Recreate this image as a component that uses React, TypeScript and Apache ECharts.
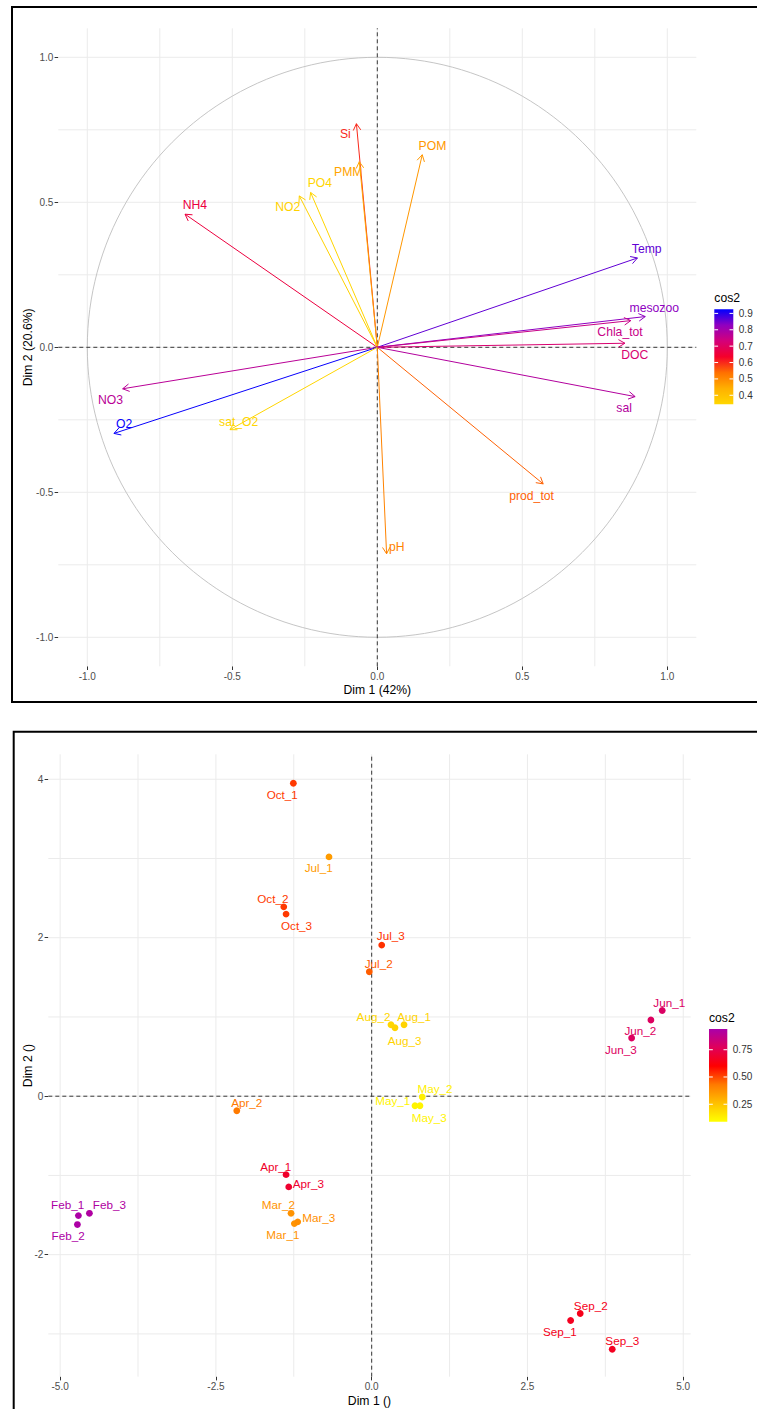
import React, { useEffect, useRef } from "react";
import * as echarts from "echarts";

// ---------- Variables (PCA correlation circle) ----------
const varNames = ["Si", "PMM", "PO4", "NO2", "NH4", "POM", "Temp", "mesozoo", "Chla_tot", "DOC", "sal", "prod_tot", "pH", "NO3", "O2", "sat_O2"];
const varDim1 = [-0.072, -0.062, -0.230, -0.269, -0.663, 0.155, 0.897, 0.924, 0.874, 0.854, 0.889, 0.572, 0.032, -0.878, -0.908, -0.508];
const varDim2 = [0.771, 0.640, 0.534, 0.522, 0.459, 0.664, 0.308, 0.106, 0.092, 0.014, -0.170, -0.471, -0.712, -0.143, -0.297, -0.284];
const varCos2 = [0.60, 0.46, 0.35, 0.36, 0.66, 0.48, 0.86, 0.83, 0.75, 0.72, 0.78, 0.55, 0.51, 0.77, 0.92, 0.35];
const varLabelDim1 = [-0.110, -0.100, -0.198, -0.309, -0.629, 0.190, 0.929, 0.955, 0.837, 0.888, 0.851, 0.532, 0.067, -0.920, -0.873, -0.478];
const varLabelDim2 = [0.735, 0.603, 0.566, 0.483, 0.489, 0.694, 0.338, 0.136, 0.053, -0.025, -0.211, -0.513, -0.689, -0.182, -0.264, -0.258];

// ---------- Individuals ----------
const indNames = ["Feb_1", "Feb_2", "Feb_3", "Mar_1", "Mar_2", "Mar_3", "Apr_1", "Apr_2", "Apr_3", "May_1", "May_2", "May_3", "Jun_1", "Jun_2", "Jun_3", "Jul_1", "Jul_2", "Jul_3", "Aug_1", "Aug_2", "Aug_3", "Sep_1", "Sep_2", "Sep_3", "Oct_1", "Oct_2", "Oct_3"];
const indDim1 = [-4.707, -4.723, -4.530, -1.241, -1.294, -1.187, -1.374, -2.165, -1.331, 0.695, 0.812, 0.775, 4.663, 4.481, 4.172, -0.685, -0.038, 0.161, 0.519, 0.310, 0.374, 3.193, 3.347, 3.861, -1.257, -1.411, -1.374];
const indDim2 = [-1.507, -1.620, -1.478, -1.608, -1.478, -1.586, -0.990, -0.183, -1.145, -0.120, -0.010, -0.120, 1.082, 0.961, 0.734, 3.020, 1.570, 1.907, 0.902, 0.902, 0.864, -2.831, -2.743, -3.193, 3.950, 2.390, 2.298];
const indCos2 = [0.93, 0.93, 0.92, 0.37, 0.37, 0.38, 0.68, 0.43, 0.69, 0.12, 0.13, 0.12, 0.79, 0.78, 0.78, 0.35, 0.47, 0.53, 0.21, 0.20, 0.21, 0.66, 0.65, 0.66, 0.52, 0.52, 0.52];
const indLabelDim1 = [-4.880, -4.872, -4.211, -1.426, -1.498, -0.850, -1.540, -2.005, -1.017, 0.339, 1.016, 0.925, 4.775, 4.313, 4.000, -0.850, 0.113, 0.307, 0.682, 0.029, 0.530, 3.021, 3.516, 4.021, -1.435, -1.586, -1.206];
const indLabelDim2 = [-1.364, -1.759, -1.364, -1.750, -1.372, -1.532, -0.889, -0.082, -1.100, -0.048, 0.098, -0.267, 1.179, 0.826, 0.590, 2.885, 1.680, 2.024, 1.006, 1.006, 0.709, -2.970, -2.642, -3.087, 3.806, 2.494, 2.159];

// ---------- Ticks / grid values ----------
const varTicks = [-1, -0.5, 0, 0.5, 1];
const varMinorTicks = [-0.75, -0.25, 0.25, 0.75];
const indXTicks = [-5, -2.5, 0, 2.5, 5];
const indXMinorTicks = [-3.75, -1.25, 1.25, 3.75];
const indYTicks = [-2, 0, 2, 4];
const indYMinorTicks = [-3, -1, 1, 3];
const varLegendTicks = [0.4, 0.5, 0.6, 0.7, 0.8, 0.9];
const indLegendTicks = [0.25, 0.5, 0.75];

// ---------- Scales ----------
const VAR_RANGE = [-1.1, 1.1];
const IND_X_RANGE = [-5.19, 5.12];
const IND_Y_RANGE = [-3.54, 4.315];
const VAR_COS2_RANGE = [0.345, 0.925];
const IND_COS2_RANGE = [0.09, 0.94];
const VAR_GRADIENT = ["#FFD700", "#FFB000", "#FF7000", "#F5002A", "#D4007A", "#9000C0", "#0000FF"];
const IND_GRADIENT = ["#FFFF00", "#FFC000", "#FF7A00", "#FF0000", "#E0005A", "#AA00AA"];

const FONT = "'Liberation Sans', Arial, Helvetica, sans-serif";

function gridLineSeries(xi: number, xr: number[], yr: number[], xs: number[], ys: number[], width: number) {
  const data: number[][] = [];
  xs.forEach((v) => data.push([v, 0]));
  ys.forEach((v) => data.push([v, 1]));
  return {
    type: "custom",
    xAxisIndex: xi,
    yAxisIndex: xi,
    silent: true,
    z: 1,
    data,
    renderItem: (params: any, api: any) => {
      const v = api.value(0);
      const o = api.value(1);
      const p1 = o === 0 ? api.coord([v, yr[0]]) : api.coord([xr[0], v]);
      const p2 = o === 0 ? api.coord([v, yr[1]]) : api.coord([xr[1], v]);
      return {
        type: "line",
        shape: { x1: p1[0], y1: p1[1], x2: p2[0], y2: p2[1] },
        style: { stroke: "#EBEBEB", lineWidth: width },
      };
    },
  };
}

function zeroLineSeries(xi: number, xr: number[], yr: number[]) {
  return {
    type: "custom",
    xAxisIndex: xi,
    yAxisIndex: xi,
    silent: true,
    z: 3,
    data: [[0, 0], [0, 1]],
    renderItem: (params: any, api: any) => {
      const o = api.value(1);
      const p1 = o === 0 ? api.coord([0, yr[0]]) : api.coord([xr[0], 0]);
      const p2 = o === 0 ? api.coord([0, yr[1]]) : api.coord([xr[1], 0]);
      return {
        type: "line",
        shape: { x1: p1[0], y1: p1[1], x2: p2[0], y2: p2[1] },
        style: { stroke: "#222", lineWidth: 0.9, lineDash: [4, 3] },
      };
    },
  };
}

function axisCommon(ticks: number[], fmt: (v: number) => string) {
  return {
    type: "value",
    axisLine: { show: false, onZero: false },
    splitLine: { show: false },
    axisTick: { show: true, customValues: ticks, length: 3.7, lineStyle: { color: "#333", width: 1 } },
    axisLabel: { customValues: ticks, formatter: (v: number) => fmt(v), color: "#4D4D4D", fontSize: 10, fontFamily: FONT, margin: 5 },
    nameLocation: "middle",
    nameMoveOverlap: false,
    nameTextStyle: { color: "#000", fontSize: 12.2, fontFamily: FONT },
  };
}

function colorBar(x: number, y: number, w: number, h: number, colors: string[], range: number[], ticks: number[], fmt: (v: number) => string, titleY: number) {
  const n = colors.length;
  const stops = colors.map((c, i) => ({ offset: i / (n - 1), color: colors[n - 1 - i] }));
  const els: any[] = [
    { type: "text", left: x, top: titleY - 7, style: { text: "cos2", fill: "#000", fontSize: 12.2, fontFamily: FONT } },
    { type: "rect", shape: { x, y, width: w, height: h }, style: { fill: new echarts.graphic.LinearGradient(0, 0, 0, 1, stops) } },
  ];
  ticks.forEach((v) => {
    const ty = y + ((range[1] - v) / (range[1] - range[0])) * h;
    els.push({ type: "line", shape: { x1: x, y1: ty, x2: x + 3.8, y2: ty }, style: { stroke: "#fff", lineWidth: 1 } });
    els.push({ type: "line", shape: { x1: x + w - 3.8, y1: ty, x2: x + w, y2: ty }, style: { stroke: "#fff", lineWidth: 1 } });
    els.push({ type: "text", x: x + w + 5.5, y: ty, style: { text: fmt(v), fill: "#333", fontSize: 10, fontFamily: FONT, verticalAlign: "middle", align: "left" } });
  });
  return els;
}

export default function App() {
  const ref = useRef<HTMLDivElement>(null);
  useEffect(() => {
    if (!ref.current) return;
    const chart = echarts.init(ref.current, null, { renderer: "svg" });

    const varData = varNames.map((_, i) => [varDim1[i], varDim2[i], varCos2[i], varLabelDim1[i], varLabelDim2[i]]);
    const indData = indNames.map((_, i) => [indDim1[i], indDim2[i], indCos2[i], indLabelDim1[i], indLabelDim2[i]]);

    const option: any = {
      animation: false,
      backgroundColor: "#fff",
      grid: [
        { left: 58.3, top: 28.3, width: 638, height: 638 },
        { left: 48.3, top: 754.3, width: 642.4, height: 622.4 },
      ],
      xAxis: [
        { ...axisCommon(varTicks, (v) => v.toFixed(1)), gridIndex: 0, min: VAR_RANGE[0], max: VAR_RANGE[1], name: "Dim 1 (42%)", nameGap: 18 },
        { ...axisCommon(indXTicks, (v) => v.toFixed(1)), gridIndex: 1, min: IND_X_RANGE[0], max: IND_X_RANGE[1], name: "Dim 1 ()", nameGap: 18 },
      ],
      yAxis: [
        { ...axisCommon(varTicks, (v) => v.toFixed(1)), gridIndex: 0, min: VAR_RANGE[0], max: VAR_RANGE[1], name: "Dim 2 (20.6%)", nameGap: 24 },
        { ...axisCommon(indYTicks, (v) => String(v)), gridIndex: 1, min: IND_Y_RANGE[0], max: IND_Y_RANGE[1], name: "Dim 2 ()", nameGap: 14 },
      ],
      visualMap: [
        { type: "continuous", show: false, seriesIndex: 4, dimension: 2, min: VAR_COS2_RANGE[0], max: VAR_COS2_RANGE[1], inRange: { color: VAR_GRADIENT } },
        { type: "continuous", show: false, seriesIndex: 8, dimension: 2, min: IND_COS2_RANGE[0], max: IND_COS2_RANGE[1], inRange: { color: IND_GRADIENT } },
      ],
      series: [
        // 0: top grid lines
        gridLineSeries(0, VAR_RANGE, VAR_RANGE, varTicks.concat(varMinorTicks), varTicks.concat(varMinorTicks), 1),
        // 1: unit circle
        {
          type: "custom",
          xAxisIndex: 0,
          yAxisIndex: 0,
          silent: true,
          z: 2,
          data: [[0, 0, 1]],
          renderItem: (params: any, api: any) => {
            const c = api.coord([api.value(0), api.value(1)]);
            const s = api.size([api.value(2), api.value(2)]);
            return { type: "circle", shape: { cx: c[0], cy: c[1], r: s[0] }, style: { fill: "none", stroke: "#BEBEBE", lineWidth: 0.9 } };
          },
        },
        // 2: zero lines top
        zeroLineSeries(0, VAR_RANGE, VAR_RANGE),
        // 3: placeholder (keeps indices simple)
        { type: "custom", xAxisIndex: 0, yAxisIndex: 0, data: [], renderItem: () => null },
        // 4: arrows
        {
          type: "custom",
          xAxisIndex: 0,
          yAxisIndex: 0,
          z: 5,
          data: varData,
          renderItem: (params: any, api: any) => {
            const tip = api.coord([api.value(0), api.value(1)]);
            const o = api.coord([0, 0]);
            const color = api.visual("color");
            const ang = Math.atan2(tip[1] - o[1], tip[0] - o[0]);
            const L = 7.5;
            const A = Math.PI / 6;
            const h1 = [tip[0] - L * Math.cos(ang - A), tip[1] - L * Math.sin(ang - A)];
            const h2 = [tip[0] - L * Math.cos(ang + A), tip[1] - L * Math.sin(ang + A)];
            const lp = api.coord([api.value(3), api.value(4)]);
            return {
              type: "group",
              children: [
                { type: "line", shape: { x1: o[0], y1: o[1], x2: tip[0], y2: tip[1] }, style: { stroke: color, lineWidth: 1 } },
                { type: "polyline", shape: { points: [h1, tip, h2] }, style: { stroke: color, fill: "none", lineWidth: 1 } },
                { type: "text", x: lp[0], y: lp[1], style: { text: varNames[params.dataIndex], fill: color, fontSize: 12.2, fontFamily: FONT, align: "center", verticalAlign: "middle" } },
              ],
            };
          },
        },
        // 5: bottom grid lines
        gridLineSeries(1, IND_X_RANGE, IND_Y_RANGE, indXTicks.concat(indXMinorTicks), indYTicks.concat(indYMinorTicks), 1),
        // 6: zero lines bottom
        zeroLineSeries(1, IND_X_RANGE, IND_Y_RANGE),
        // 7: placeholder
        { type: "custom", xAxisIndex: 1, yAxisIndex: 1, data: [], renderItem: () => null },
        // 8: individuals
        {
          type: "custom",
          xAxisIndex: 1,
          yAxisIndex: 1,
          z: 5,
          data: indData,
          renderItem: (params: any, api: any) => {
            const p = api.coord([api.value(0), api.value(1)]);
            const color = api.visual("color");
            const lp = api.coord([api.value(3), api.value(4)]);
            return {
              type: "group",
              children: [
                { type: "circle", shape: { cx: p[0], cy: p[1], r: 3.4 }, style: { fill: color } },
                { type: "text", x: lp[0], y: lp[1], style: { text: indNames[params.dataIndex], fill: color, fontSize: 11.7, fontFamily: FONT, align: "center", verticalAlign: "middle" } },
              ],
            };
          },
        },
      ],
      graphic: [
        { type: "rect", shape: { x: 12, y: 7, width: 800, height: 695 }, style: { fill: "none", stroke: "#000", lineWidth: 2 }, silent: true },
        { type: "rect", shape: { x: 13.7, y: 731.7, width: 800, height: 800 }, style: { fill: "none", stroke: "#000", lineWidth: 2 }, silent: true },
        ...colorBar(714.3, 309.3, 19, 95, VAR_GRADIENT, VAR_COS2_RANGE, varLegendTicks, (v) => v.toFixed(1), 298.7),
        ...colorBar(709, 1029, 18.3, 92.7, IND_GRADIENT, IND_COS2_RANGE, indLegendTicks, (v) => v.toFixed(2), 1018.7),
      ],
    };
    chart.setOption(option);
    return () => chart.dispose();
  }, []);
  return <div ref={ref} style={{ position: "absolute", left: 0, top: 0, width: 757, height: 1409 }} />;
}
